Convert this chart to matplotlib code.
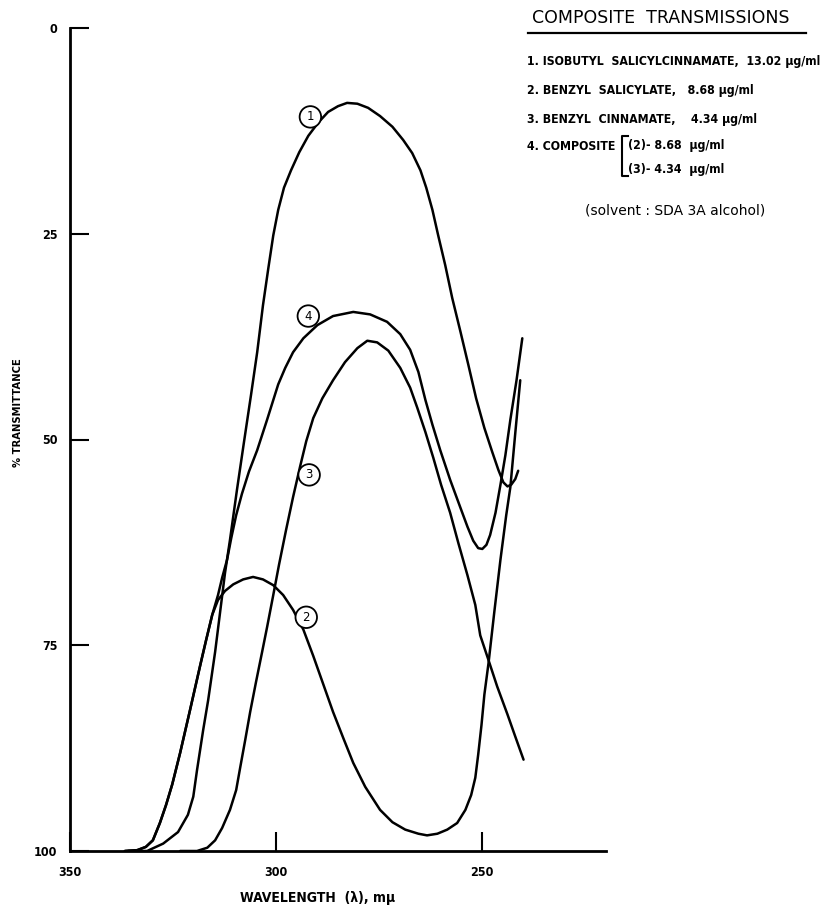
import matplotlib
matplotlib.use("Agg")
import matplotlib.pyplot as plt
from matplotlib.lines import Line2D

W, H = 828, 915

FONT = ["DejaVu Sans"]

# ---- curve readings: wavelength (m\u03bc) vs % transmittance ----
# 1. isobutyl salicylcinnamate
wl_1 = [335.9, 331.3, 327.4, 323.8, 321.4, 320.1, 319.2, 317.7, 316.5, 314.8, 313.6,
        312.4, 311.2, 309.5, 307.8, 306.1, 304.6, 303.2, 301.9, 300.7, 299.5, 298.1,
        296.4, 294.4, 292.2, 289.8, 287.4, 285.0, 282.8, 280.3, 277.7, 274.8, 271.8,
        269.2, 267.0, 265.0, 263.6, 262.1, 260.7, 259.0, 257.3, 255.3, 253.4, 251.5,
        249.5, 247.6, 246.1, 244.9, 243.9, 243.0, 242.0, 241.3]
t_1 = [100, 100, 99.1, 97.7, 95.6, 93.4, 90.2, 85.3, 81.7, 75.8, 71.0,
       66.2, 62.2, 56.1, 50.3, 44.6, 39.4, 33.7, 29.2, 25.2, 22.1, 19.4,
       17.3, 15.1, 13.1, 11.5, 10.2, 9.5, 9.1, 9.2, 9.7, 10.7, 12.0,
       13.6, 15.2, 17.3, 19.4, 22.1, 25.2, 28.8, 32.8, 36.9, 40.9, 45.0,
       48.6, 51.5, 53.7, 55.2, 55.7, 55.5, 54.8, 53.8]

# 2. benzyl salicylate
wl_2 = [336.7, 333.7, 331.6, 329.9, 328.2, 326.7, 325.2, 323.3, 320.9, 318.4, 317.0,
        315.5, 314.1, 312.4, 310.4, 308.0, 305.6, 303.2, 300.7, 298.3, 295.9, 293.4,
        291.0, 288.6, 286.2, 283.7, 281.3, 278.4, 274.8, 271.8, 268.7, 265.5, 263.4,
        260.9, 258.5, 256.1, 254.1, 252.7, 251.7, 251.0, 250.2, 249.5, 248.5, 247.1,
        245.6, 244.2, 243.2, 242.0, 240.8]
t_2 = [100, 99.9, 99.5, 98.7, 96.6, 94.4, 91.9, 88.1, 82.9, 77.4, 74.4,
       71.3, 69.5, 68.4, 67.6, 67.0, 66.7, 67.0, 67.7, 68.9, 70.7, 73.1,
       76.3, 79.7, 83.1, 86.3, 89.3, 92.2, 95.0, 96.5, 97.4, 97.9, 98.1,
       97.9, 97.4, 96.6, 95.0, 93.2, 91.1, 88.3, 84.7, 81.0, 77.2, 71.0,
       64.6, 59.2, 55.8, 49.2, 42.8]

# 3. benzyl cinnamate
wl_3 = [323.3, 319.2, 316.7, 314.8, 313.1, 311.2, 309.7, 308.7, 307.5, 306.3, 304.9,
        303.4, 302.2, 300.7, 299.3, 297.6, 295.9, 294.2, 292.7, 291.0, 288.8, 286.2,
        283.3, 280.3, 277.9, 275.5, 272.8, 269.9, 267.5, 265.8, 263.8, 261.9, 260.0,
        257.8, 255.8, 253.6, 251.7, 250.5, 248.5, 246.4, 243.9, 242.0, 240.0]
t_3 = [100, 100, 99.6, 98.7, 97.2, 95.0, 92.6, 89.8, 86.5, 83.1, 79.5,
       75.8, 72.8, 68.9, 65.2, 61.0, 57.0, 53.3, 50.2, 47.4, 45.0, 42.8,
       40.6, 38.9, 38.0, 38.2, 39.2, 41.3, 43.7, 46.1, 49.1, 52.2, 55.5,
       58.9, 62.6, 66.5, 70.1, 73.8, 76.8, 80.0, 83.4, 86.1, 88.9]

# 4. composite of (2) and (3)
wl_4 = [336.7, 333.7, 331.6, 329.9, 328.2, 326.7, 325.2, 323.3, 320.9, 318.4, 317.0,
        315.5, 314.1, 313.1, 311.9, 310.9, 309.7, 308.3, 306.6, 304.6, 302.2, 299.5,
        297.8, 295.9, 293.4, 290.0, 286.2, 281.3, 277.2, 273.1, 269.9, 267.5, 265.5,
        263.8, 262.1, 260.2, 257.8, 255.3, 253.6, 252.2, 251.0, 250.0, 249.0, 248.1,
        246.8, 245.6, 244.4, 243.2, 241.7, 240.3]
t_4 = [100, 99.9, 99.5, 98.7, 96.6, 94.4, 91.9, 88.1, 82.9, 77.4, 74.4,
       71.3, 68.9, 66.8, 64.6, 62.0, 59.2, 56.6, 53.9, 51.3, 47.6, 43.3,
       41.3, 39.4, 37.7, 36.1, 35.0, 34.5, 34.8, 35.7, 37.2, 39.1, 41.8,
       45.2, 48.2, 51.3, 54.9, 58.3, 60.6, 62.3, 63.2, 63.3, 62.8, 61.6,
       58.9, 55.5, 51.9, 47.6, 42.8, 37.7]

curve_labels = ["1", "2", "3", "4"]
label_wl = [291.7, 292.7, 292.0, 292.2]
label_t = [10.8, 71.6, 54.3, 35.0]

x_ticks = [350, 300, 250]
y_ticks = [0, 25, 50, 75, 100]

legend_lines = ["1. ISOBUTYL  SALICYLCINNAMATE,  13.02 \u03bcg/ml",
                "2. BENZYL  SALICYLATE,   8.68 \u03bcg/ml",
                "3. BENZYL  CINNAMATE,    4.34 \u03bcg/ml"]
composite_parts = ["(2)- 8.68  \u03bcg/ml", "(3)- 4.34  \u03bcg/ml"]


def fx(px):
    return px / W


def fy(py):
    return 1 - py / H


fig = plt.figure(figsize=(W / 100, H / 100), dpi=100)
ax = fig.add_axes([fx(70), fy(851), fx(606) - fx(70), fy(28) - fy(851)])

for wl, t in [(wl_1, t_1), (wl_2, t_2), (wl_3, t_3), (wl_4, t_4)]:
    ax.plot(wl, t, color="black", lw=1.8, solid_joinstyle="round", solid_capstyle="round")

for lab, x, y in zip(curve_labels, label_wl, label_t):
    ax.text(x, y, lab, ha="center", va="center", fontsize=8.5, family=FONT,
            bbox=dict(boxstyle="circle,pad=0.36", fc="white", ec="black", lw=1.3))

ax.set_xlim(350, 220)
ax.set_ylim(100, 0)
ax.set_xticks(x_ticks)
ax.set_yticks(y_ticks)
tick_font = dict(fontweight="bold", family=FONT, fontsize=9, fontstretch="condensed")
ax.set_xticklabels([str(v) for v in x_ticks], **tick_font)
ax.set_yticklabels([str(v) for v in y_ticks], **tick_font)
ax.tick_params(axis="both", direction="in", width=1.5, length=14, pad=9)
ax.tick_params(axis="x", pad=11)
for side in ["top", "right"]:
    ax.spines[side].set_visible(False)
for side in ["left", "bottom"]:
    ax.spines[side].set_linewidth(2.0)

fig.text(fx(18), fy(413), "% TRANSMITTANCE", rotation=90, ha="center", va="center",
         fontsize=8, fontweight="bold", family=FONT, fontstretch="condensed")
fig.text(fx(318), fy(898), "WAVELENGTH  (\u03bb), m\u03bc", ha="center", va="center",
         fontsize=10, fontweight="bold", family=FONT, fontstretch="condensed")

# title block at upper right
fig.text(fx(532), fy(18), "COMPOSITE  TRANSMISSIONS", ha="left", va="center",
         fontsize=12.5, family=FONT)
fig.add_artist(Line2D([fx(528), fx(806)], [fy(33), fy(33)], color="black", lw=1.6))

legend_font = dict(fontsize=8.8, fontweight="bold", family=FONT, fontstretch="condensed")
for i, line in enumerate(legend_lines):
    fig.text(fx(527), fy(62 + i * 28.5), line, ha="left", va="center", **legend_font)
fig.text(fx(527), fy(146), "4. COMPOSITE", ha="left", va="center", **legend_font)
for i, part in enumerate(composite_parts):
    fig.text(fx(628), fy(146 + i * 24), part, ha="left", va="center", **legend_font)
fig.add_artist(Line2D([fx(628), fx(622), fx(622), fx(628)],
                      [fy(136), fy(136), fy(176), fy(176)], color="black", lw=1.5))

fig.text(fx(675), fy(210), "(solvent : SDA 3A alcohol)", ha="center", va="center",
         fontsize=10, family=FONT)

fig.savefig("out.png", dpi=100, facecolor="white")
